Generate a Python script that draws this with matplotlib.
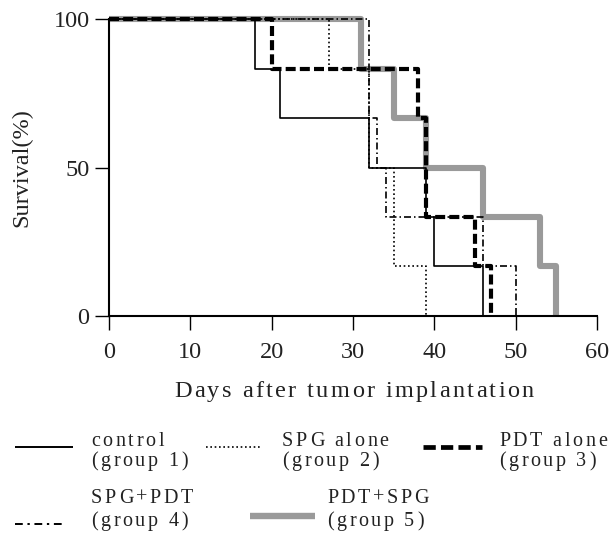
import matplotlib
matplotlib.use("Agg")
import matplotlib.pyplot as plt
from matplotlib import font_manager as fm
from matplotlib.ft2font import FT2Font
from matplotlib.lines import Line2D

# ---------------- data ----------------
control_days = [0, 18, 21, 32, 39, 40, 46]
control_surv = [100, 83.3, 66.7, 50, 33.3, 16.7, 0]

spg_days = [0, 27, 32, 35, 39]
spg_surv = [100, 83.3, 50, 16.7, 0]

pdt_days = [0, 20, 38, 39, 45, 47]
pdt_surv = [100, 83.3, 66.7, 33.3, 16.7, 0]

spgpdt_days = [0, 32, 33, 34, 46, 50]
spgpdt_surv = [100, 66.7, 50, 33.3, 16.7, 0]

pdtspg_days = [0, 31, 35, 39, 46, 53, 55]
pdtspg_surv = [100, 83.3, 66.7, 50, 33.3, 16.7, 0]

x_ticks = [0, 10, 20, 30, 40, 50, 60]
y_ticks = [0, 50, 100]
x_label = "Days after tumor implantation"
y_label = "Survival(%)"
legend_names = [("control", "(group 1)"), ("SPG alone", "(group 2)"),
                ("PDT alone", "(group 3)"), ("SPG+PDT", "(group 4)"),
                ("PDT+SPG", "(group 5)")]

# ---------------- figure ----------------
W, H, DPI = 614, 537, 100
FONT = "Liberation Serif"
TXT = "#222222"
fig = plt.figure(figsize=(W / DPI, H / DPI), dpi=DPI)
fig.patch.set_facecolor("white")

ax = fig.add_axes([109 / W, 1 - 316 / H, 488 / W, 297 / H])

styles = [
    dict(color="black", lw=1.2, ls="-"),
    dict(color="black", lw=1.2, ls=(0, (1, 1.6))),
    dict(color="black", lw=3.0, ls=(0, (2.4, 1.0))),
    dict(color="black", lw=1.2, ls=(0, (4.2, 1.8, 0.9, 1.8))),
    dict(color="#9a9a9a", lw=4.4, ls="-"),
]
series = [(control_days, control_surv), (spg_days, spg_surv),
          (pdt_days, pdt_surv), (spgpdt_days, spgpdt_surv),
          (pdtspg_days, pdtspg_surv)]
zorders = [4, 4, 3, 4, 2]

for (d, s), st, z in zip(series, styles, zorders):
    ax.step(d, s, where="post", clip_on=False, zorder=z,
            solid_capstyle="butt", dash_capstyle="butt", **st)

ax.set_xlim(0, 60)
ax.set_ylim(0, 100)
ax.set_xticks(x_ticks)
ax.set_yticks(y_ticks)
for sp in ["top", "right"]:
    ax.spines[sp].set_visible(False)
for sp in ["left", "bottom"]:
    ax.spines[sp].set_linewidth(1.5)
ax.tick_params(axis="both", direction="out", length=10, width=1.0,
               labelsize=17.5, colors="black")
ax.tick_params(axis="x", pad=9)
ax.tick_params(axis="y", pad=4)
for lab in ax.get_xticklabels() + ax.get_yticklabels():
    lab.set_fontfamily(FONT)
    lab.set_color(TXT)


# ---------------- spaced text helper ----------------
def advances(s, size):
    prop = fm.FontProperties(family=FONT, size=size)
    font = FT2Font(fm.findfont(prop), hinting_factor=1)
    font.set_size(size, DPI)
    out = []
    for c in s:
        g = font.load_char(ord(c))
        out.append(g.linearHoriAdvance / 65536.0)
    return out


def spaced(x_px, y_px, s, size, spacing, ha="left", color=TXT):
    adv = advances(s, size)
    total = sum(adv) + spacing * (len(s) - 1)
    x = x_px - total / 2 if ha == "center" else x_px
    for c, a in zip(s, adv):
        if c != " ":
            fig.text(x / W, 1 - y_px / H, c, fontsize=size, family=FONT,
                     ha="left", va="baseline", color=color)
        x += a + spacing


# axis labels
spaced(354, 397, x_label, 17.5, 2.5, ha="center")
fig.text(22 / W, 1 - 168 / H, y_label, rotation=90, fontsize=17.5,
         family=FONT, ha="center", va="center", color=TXT)

# ---------------- legend ----------------
leg_styles = [
    dict(color="black", lw=1.4, ls="-"),
    dict(color="black", lw=1.2, ls=(0, (1, 1.6))),
    dict(color="black", lw=3.4, ls=(0, (2.6, 1.1))),
    dict(color="black", lw=1.4, ls=(0, (4.0, 2.4, 1.2, 2.4))),
    dict(color="#9a9a9a", lw=4.6, ls="-"),
]
legend_items = [
    # (x0, x1, line_y, text_x, base1, base2)
    (15, 73, 447, 91, 446, 466),
    (206, 260, 447, 282, 446, 466),
    (423, 482, 447, 499, 446, 466),
    (15, 63, 524, 91, 503, 526),
    (250, 315, 516, 327, 503, 526),
]
for (x0, x1, ly, tx, b1, b2), st, (n1, n2) in zip(legend_items, leg_styles, legend_names):
    ln = Line2D([x0 / W, x1 / W], [1 - ly / H, 1 - ly / H], transform=fig.transFigure,
                solid_capstyle="butt", dash_capstyle="butt", **st)
    fig.add_artist(ln)
    spaced(tx, b1, n1, 14.5, 2.7)
    spaced(tx, b2, n2, 14.5, 2.7)

fig.savefig("out.png", dpi=DPI, facecolor="white")
